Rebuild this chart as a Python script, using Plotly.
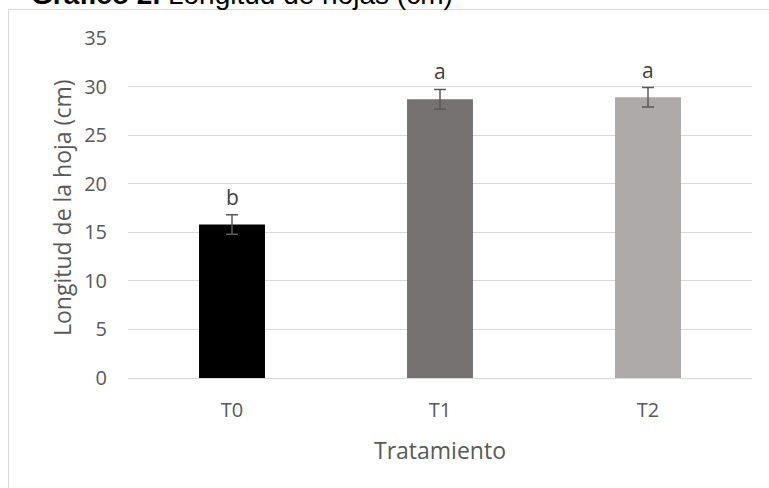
import plotly.graph_objects as go

# Data: mean leaf length per treatment with standard error and group letters
tratamientos = ["T0", "T1", "T2"]
longitud = [15.8, 28.7, 28.9]
error = [1.0, 1.0, 1.0]
letras = ["b", "a", "a"]
colores = ["#000000", "#767171", "#AEAAAA"]
y_ticks = [0, 5, 10, 15, 20, 25, 30, 35]

W, H = 769, 488
ML, MR, MT, MB = 128, 17, 38, 110
PW, PH = W - ML - MR, H - MT - MB


def px_x(p):
    return (p - ML) / PW


def px_y(p):
    return 1 - (p - MT) / PH


TXT = "#595959"
FONT = "Open Sans"

fig = go.Figure()
fig.add_trace(go.Bar(
    x=tratamientos,
    y=longitud,
    marker=dict(color=colores, line=dict(width=0)),
    width=0.317,
    error_y=dict(type="data", array=error, visible=True,
                 color="#595959", thickness=1.5, width=6),
    showlegend=False,
    hoverinfo="skip",
))

annotations = []
for t, v, e, l in zip(tratamientos, longitud, error, letras):
    annotations.append(dict(
        x=t, y=v + e, xref="x", yref="y", text=l, showarrow=False,
        yanchor="bottom", xanchor="center", yshift=2,
        font=dict(family=FONT, size=21, color="#404040"),
    ))

# Chart title (partly above the visible area)
annotations.append(dict(
    x=px_x(29), y=px_y(12), xref="paper", yref="paper",
    xanchor="left", yanchor="bottom", showarrow=False,
    text="<b>Gráfico 2.</b> Longitud de hojas (cm)",
    font=dict(family="Arial", size=28, color="#000000"),
))
# Axis titles
annotations.append(dict(
    x=px_x(62), y=0.5, xref="paper", yref="paper",
    xanchor="center", yanchor="middle", showarrow=False, textangle=-90,
    text="Longitud de la hoja (cm)",
    font=dict(family=FONT, size=23, color=TXT),
))
annotations.append(dict(
    x=0.5, y=px_y(450), xref="paper", yref="paper",
    xanchor="center", yanchor="middle", showarrow=False,
    text="Tratamiento",
    font=dict(family=FONT, size=23, color=TXT),
))

fig.update_layout(
    width=W, height=H,
    margin=dict(l=ML, r=MR, t=MT, b=MB),
    paper_bgcolor="white", plot_bgcolor="white",
    annotations=annotations,
    shapes=[dict(
        type="rect", xref="paper", yref="paper",
        x0=px_x(8.5), x1=px_x(W + 10), y0=px_y(H + 10), y1=px_y(9.5),
        line=dict(color="#d9d9d9", width=1), fillcolor="rgba(0,0,0,0)",
        layer="below",
    )],
    xaxis=dict(
        showgrid=False, showline=True, linecolor="#d9d9d9", linewidth=1,
        ticks="", ticklabelstandoff=14,
        tickfont=dict(family=FONT, size=20, color=TXT),
        fixedrange=True,
    ),
    yaxis=dict(
        range=[0, 35], tickvals=y_ticks,
        showgrid=True, gridcolor="#d9d9d9", gridwidth=1,
        zeroline=False, showline=False, ticks="",
        ticklabelstandoff=20,
        tickfont=dict(family=FONT, size=20, color=TXT),
        fixedrange=True,
    ),
    bargap=0.683,
)

fig.write_html("out.html")
